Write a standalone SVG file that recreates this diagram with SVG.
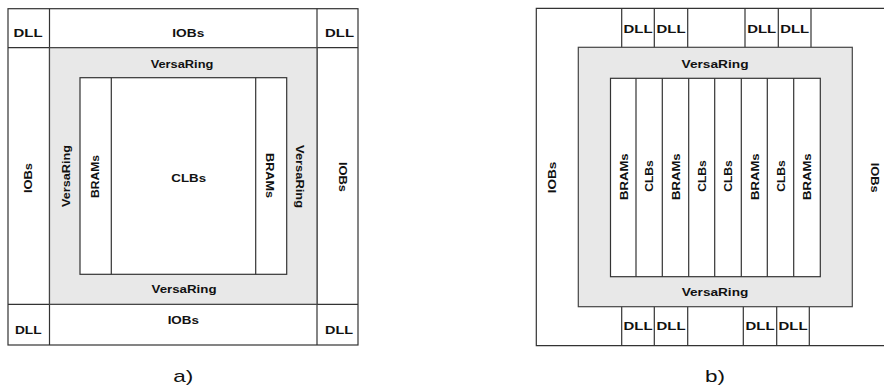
<svg xmlns="http://www.w3.org/2000/svg" width="884" height="388" viewBox="0 0 884 388">
<style>
.ln{fill:none;stroke:#333;stroke-width:1.2}
.ring{fill:#e8e8e8;stroke:#444;stroke-width:1.2}
.core{fill:#fff;stroke:#333;stroke-width:1.2}
.t{font-family:"Liberation Sans",Arial,sans-serif;font-weight:bold;font-size:11.5px;fill:#111;text-anchor:middle}
.cap{font-family:"Liberation Sans",Arial,sans-serif;font-size:17px;fill:#111;text-anchor:middle}
</style>
<rect width="884" height="388" fill="#fff"/>
<g id="connectors">
<rect class="ln" x="8" y="8.7" width="350" height="336.3"/>
<line class="ln" x1="8" y1="47.7" x2="358" y2="47.7"/>
<line class="ln" x1="8" y1="304.3" x2="358" y2="304.3"/>
<line class="ln" x1="49.5" y1="8.7" x2="49.5" y2="345"/>
<line class="ln" x1="317" y1="8.7" x2="317" y2="345"/>
<polyline class="ln" points="884,8.3 536.3,8.3 536.3,345.7 884,345.7"/>
</g>
<g id="a-ring"><rect class="ring" x="49.5" y="47.7" width="267.5" height="256.6"/></g>
<g id="a-core">
<rect class="core" x="80" y="77.7" width="206.7" height="196.6"/>
<line class="ln" x1="111.3" y1="77.7" x2="111.3" y2="274.3"/>
<line class="ln" x1="255.7" y1="77.7" x2="255.7" y2="274.3"/>
</g>
<g id="a-labels">
<text class="t" x="28" y="37.3" textLength="29" lengthAdjust="spacingAndGlyphs">DLL</text>
<text class="t" x="188.3" y="37.3" textLength="32" lengthAdjust="spacingAndGlyphs">IOBs</text>
<text class="t" x="339.5" y="37.3" textLength="29" lengthAdjust="spacingAndGlyphs">DLL</text>
<text class="t" x="182" y="68" textLength="62.7" lengthAdjust="spacingAndGlyphs">VersaRing</text>
<text class="t" transform="translate(28,178) rotate(-90)" x="0" y="4.2" textLength="30" lengthAdjust="spacingAndGlyphs">IOBs</text>
<text class="t" transform="translate(65.7,176) rotate(-90)" x="0" y="4.2" textLength="62" lengthAdjust="spacingAndGlyphs">VersaRing</text>
<text class="t" transform="translate(95,176.5) rotate(-90)" x="0" y="4.2" textLength="43" lengthAdjust="spacingAndGlyphs">BRAMs</text>
<text class="t" x="188.7" y="182.3" textLength="34.7" lengthAdjust="spacingAndGlyphs">CLBs</text>
<text class="t" transform="translate(270,175.5) rotate(90)" x="0" y="4.2" textLength="45" lengthAdjust="spacingAndGlyphs">BRAMs</text>
<text class="t" transform="translate(300,176.5) rotate(90)" x="0" y="4.2" textLength="63" lengthAdjust="spacingAndGlyphs">VersaRing</text>
<text class="t" transform="translate(343,177) rotate(90)" x="0" y="4.2" textLength="30" lengthAdjust="spacingAndGlyphs">IOBs</text>
<text class="t" x="184" y="293.3" textLength="65" lengthAdjust="spacingAndGlyphs">VersaRing</text>
<text class="t" x="183.3" y="324.3" textLength="31.3" lengthAdjust="spacingAndGlyphs">IOBs</text>
<text class="t" x="28.3" y="334" textLength="26.7" lengthAdjust="spacingAndGlyphs">DLL</text>
<text class="t" x="339" y="334" textLength="28" lengthAdjust="spacingAndGlyphs">DLL</text>
<text class="cap" x="183.3" y="381.7" textLength="20" lengthAdjust="spacingAndGlyphs">a)</text>
</g>
<g id="b-dll-top">
<line class="ln" x1="621.7" y1="8.3" x2="621.7" y2="47.3"/>
<line class="ln" x1="654.3" y1="8.3" x2="654.3" y2="47.3"/>
<line class="ln" x1="687.7" y1="8.3" x2="687.7" y2="47.3"/>
<line class="ln" x1="745" y1="8.3" x2="745" y2="47.3"/>
<line class="ln" x1="778.3" y1="8.3" x2="778.3" y2="47.3"/>
<line class="ln" x1="811" y1="8.3" x2="811" y2="47.3"/>
<text class="t" x="638" y="33.3" textLength="29" lengthAdjust="spacingAndGlyphs">DLL</text>
<text class="t" x="671" y="33.3" textLength="29" lengthAdjust="spacingAndGlyphs">DLL</text>
<text class="t" x="761.7" y="33.3" textLength="29" lengthAdjust="spacingAndGlyphs">DLL</text>
<text class="t" x="794.7" y="33.3" textLength="29" lengthAdjust="spacingAndGlyphs">DLL</text>
</g>
<g id="b-dll-bottom">
<line class="ln" x1="621.7" y1="306.7" x2="621.7" y2="345.7"/>
<line class="ln" x1="654.3" y1="306.7" x2="654.3" y2="345.7"/>
<line class="ln" x1="687.7" y1="306.7" x2="687.7" y2="345.7"/>
<line class="ln" x1="743.3" y1="306.7" x2="743.3" y2="345.7"/>
<line class="ln" x1="776.7" y1="306.7" x2="776.7" y2="345.7"/>
<line class="ln" x1="809.3" y1="306.7" x2="809.3" y2="345.7"/>
<text class="t" x="638" y="330" textLength="29" lengthAdjust="spacingAndGlyphs">DLL</text>
<text class="t" x="671" y="330" textLength="29" lengthAdjust="spacingAndGlyphs">DLL</text>
<text class="t" x="760" y="330" textLength="29" lengthAdjust="spacingAndGlyphs">DLL</text>
<text class="t" x="793" y="330" textLength="29" lengthAdjust="spacingAndGlyphs">DLL</text>
</g>
<g id="b-ring">
<rect class="ring" x="578.3" y="47.3" width="274" height="259.4"/>
<text class="t" x="715" y="68.3" textLength="67" lengthAdjust="spacingAndGlyphs">VersaRing</text>
<text class="t" x="715" y="296" textLength="66.6" lengthAdjust="spacingAndGlyphs">VersaRing</text>
</g>
<g id="b-core">
<rect class="core" x="610.5" y="78.3" width="209.8" height="198.4"/>
<line class="ln" x1="636" y1="78.3" x2="636" y2="276.7"/>
<line class="ln" x1="662.3" y1="78.3" x2="662.3" y2="276.7"/>
<line class="ln" x1="688.7" y1="78.3" x2="688.7" y2="276.7"/>
<line class="ln" x1="714.7" y1="78.3" x2="714.7" y2="276.7"/>
<line class="ln" x1="741.3" y1="78.3" x2="741.3" y2="276.7"/>
<line class="ln" x1="767.3" y1="78.3" x2="767.3" y2="276.7"/>
<line class="ln" x1="793.7" y1="78.3" x2="793.7" y2="276.7"/>
<text class="t" transform="translate(623.3,176.7) rotate(-90)" x="0" y="4.2" textLength="46.7" lengthAdjust="spacingAndGlyphs">BRAMs</text>
<text class="t" transform="translate(649.2,176) rotate(-90)" x="0" y="4.2" textLength="31.7" lengthAdjust="spacingAndGlyphs">CLBs</text>
<text class="t" transform="translate(675.5,176.7) rotate(-90)" x="0" y="4.2" textLength="46.7" lengthAdjust="spacingAndGlyphs">BRAMs</text>
<text class="t" transform="translate(701.7,176) rotate(-90)" x="0" y="4.2" textLength="31.7" lengthAdjust="spacingAndGlyphs">CLBs</text>
<text class="t" transform="translate(728,176) rotate(-90)" x="0" y="4.2" textLength="31.7" lengthAdjust="spacingAndGlyphs">CLBs</text>
<text class="t" transform="translate(754.3,176.7) rotate(-90)" x="0" y="4.2" textLength="46.7" lengthAdjust="spacingAndGlyphs">BRAMs</text>
<text class="t" transform="translate(780.5,176) rotate(-90)" x="0" y="4.2" textLength="31.7" lengthAdjust="spacingAndGlyphs">CLBs</text>
<text class="t" transform="translate(807,176.7) rotate(-90)" x="0" y="4.2" textLength="46.7" lengthAdjust="spacingAndGlyphs">BRAMs</text>
</g>
<g id="b-labels">
<text class="t" transform="translate(551.7,177.5) rotate(-90)" x="0" y="4.2" textLength="31.7" lengthAdjust="spacingAndGlyphs">IOBs</text>
<text class="t" transform="translate(875,177.7) rotate(90)" x="0" y="4.2" textLength="30" lengthAdjust="spacingAndGlyphs">IOBs</text>
<text class="cap" x="715" y="382.3" textLength="20" lengthAdjust="spacingAndGlyphs">b)</text>
</g>
</svg>
